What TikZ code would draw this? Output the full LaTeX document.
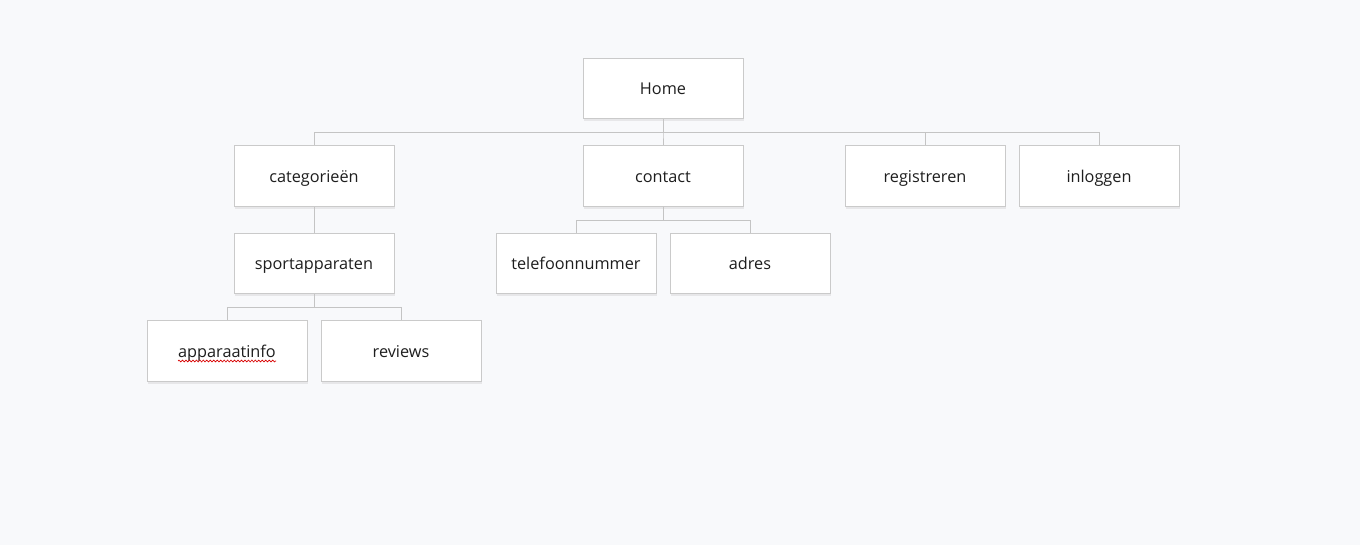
\documentclass[tikz,border=0pt]{standalone}
\usepackage{fontspec}
\setmainfont{Open Sans}
\usepackage{tikz}
\usetikzlibrary{positioning, shadows, decorations.pathmorphing}
\definecolor{bgpage}{HTML}{F8F9FB}
\definecolor{boxline}{HTML}{CACACA}
\definecolor{linkline}{HTML}{C4C4C4}
\definecolor{boxtext}{HTML}{1E1E1E}

\begin{document}
\begin{tikzpicture}[x=0.75pt, y=-0.75pt,
    page/.style={draw=boxline, fill=white, line width=0.75pt, minimum width=120pt, minimum height=45.5pt,
        inner sep=0pt, text height=11pt, text depth=1.6pt, font=\fontsize{12.2pt}{14pt}\selectfont, text=boxtext,
        drop shadow={shadow xshift=0.6pt, shadow yshift=-1.8pt, opacity=0.14}},
    link/.style={draw=linkline, line width=0.75pt}]
                \fill[bgpage] (0,0) rectangle (1360,545);
                \useasboundingbox (0,0) rectangle (1360,545);
                % level 1
                \node[page] (home) at (663,88.5) {Home};
                % level 2
                \node[page] (cat) at (314,176) {categorieën};
                \node[page] (contact) at (663,176) {contact};
                \node[page] (reg) at (925,176) {registreren};
                \node[page] (login) at (1099,176) {inloggen};
                % level 3
                \node[page] (sport) at (314,263.5) {sportapparaten};
                \node[page] (tel) at (576,263.5) {telefoonnummer};
                \node[page] (adres) at (750,263.5) {adres};
                % level 4
                \node[page] (info) at (227,351) {apparaatinfo};
                \node[page] (reviews) at (401,351) {reviews};
                % links
                \foreach \child in {cat, contact, reg, login}
                    \draw[link] (home.south) -- ++(0,13) -| (\child.north);
                \draw[link] (cat.south) -- (sport.north);
                \foreach \child in {tel, adres}
                    \draw[link] (contact.south) -- ++(0,13.5) -| (\child.north);
                \foreach \child in {info, reviews}
                    \draw[link] (sport.south) -- ++(0,13) -| (\child.north);
                \draw[red!85!black, line width=0.5pt, decorate, decoration={snake, amplitude=0.7pt, segment length=2.6pt}]
                    (178,361) -- (276,361);
\end{tikzpicture}
\end{document}
